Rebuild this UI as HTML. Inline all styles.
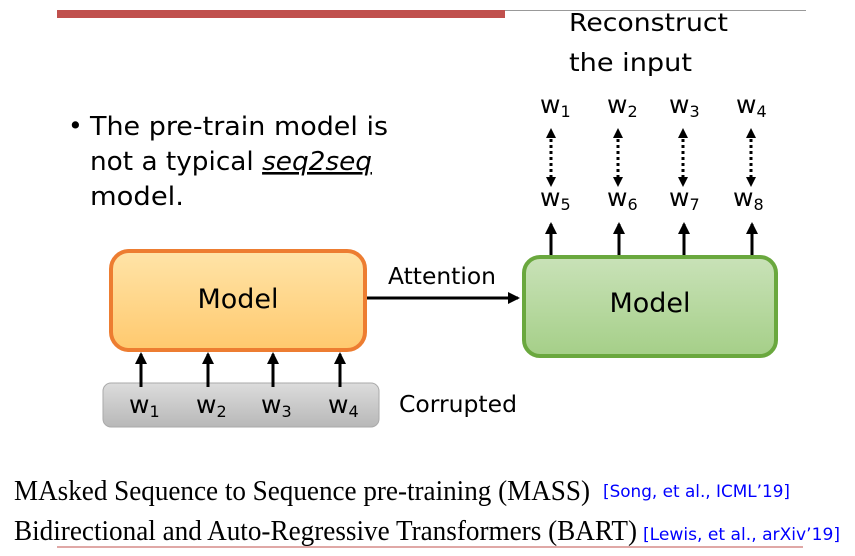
<!DOCTYPE html>
<html><head><meta charset="utf-8"><style>
body{margin:0;background:#fff;width:855px;height:556px;overflow:hidden}
svg{display:block}
text{font-family:"DejaVu Sans","Liberation Sans",sans-serif;fill:#000}
</style></head><body>
<svg width="855" height="556" viewBox="0 0 855 556">
<defs>
<linearGradient id="og" x1="0" y1="0" x2="0" y2="1"><stop offset="0" stop-color="#ffe4a8"/><stop offset="1" stop-color="#ffc96e"/></linearGradient>
<linearGradient id="gg" x1="0" y1="0" x2="0" y2="1"><stop offset="0" stop-color="#c9e2b8"/><stop offset="1" stop-color="#a5cf88"/></linearGradient>
<linearGradient id="cg" x1="0" y1="0" x2="0" y2="1"><stop offset="0" stop-color="#dcdcdc"/><stop offset="1" stop-color="#b8b8b8"/></linearGradient>
<marker id="a2" markerWidth="12" markerHeight="12" refX="10" refY="6" orient="auto-start-reverse" markerUnits="userSpaceOnUse"><path d="M0,0 L12,6 L0,12 z" fill="#000"/></marker>
<marker id="a3" markerWidth="10" markerHeight="10" refX="5" refY="5" orient="auto-start-reverse" markerUnits="userSpaceOnUse"><path d="M0,0 L10,5 L0,10 z" fill="#000"/></marker>
</defs>
<rect x="57" y="10" width="448" height="8" fill="#c0504d"/>
<line x1="505" y1="10.5" x2="806" y2="10.5" stroke="#999" stroke-width="1"/>
<text x="569" y="31" font-size="25" textLength="159" lengthAdjust="spacingAndGlyphs">Reconstruct</text>
<text x="569" y="71" font-size="25" textLength="123" lengthAdjust="spacingAndGlyphs">the input</text>
<text x="68" y="134" font-size="25">•</text>
<text x="90" y="135" font-size="26" textLength="298" lengthAdjust="spacingAndGlyphs">The pre-train model is</text>
<text x="90" y="170" font-size="26" textLength="282" lengthAdjust="spacingAndGlyphs">not a typical <tspan font-style="italic" text-decoration="underline">seq2seq</tspan></text>
<text x="90" y="205" font-size="26" textLength="94" lengthAdjust="spacingAndGlyphs">model.</text>
<g font-size="25">
<text x="540" y="113">w<tspan font-size="16" dy="4">1</tspan></text>
<text x="607" y="113">w<tspan font-size="16" dy="4">2</tspan></text>
<text x="669" y="113">w<tspan font-size="16" dy="4">3</tspan></text>
<text x="736" y="113">w<tspan font-size="16" dy="4">4</tspan></text>
<text x="540" y="206">w<tspan font-size="16" dy="4">5</tspan></text>
<text x="607" y="206">w<tspan font-size="16" dy="4">6</tspan></text>
<text x="669" y="206">w<tspan font-size="16" dy="4">7</tspan></text>
<text x="733" y="206">w<tspan font-size="16" dy="4">8</tspan></text>
</g>
<g stroke="#000" stroke-width="3" stroke-dasharray="3,3" marker-start="url(#a3)" marker-end="url(#a3)">
<line x1="551" y1="133" x2="551" y2="182"/>
<line x1="618" y1="133" x2="618" y2="182"/>
<line x1="683" y1="133" x2="683" y2="182"/>
<line x1="751" y1="133" x2="751" y2="182"/>
</g>
<g stroke="#000" stroke-width="3" marker-end="url(#a2)">
<line x1="551" y1="256" x2="551" y2="224"/>
<line x1="619" y1="256" x2="619" y2="224"/>
<line x1="684" y1="256" x2="684" y2="224"/>
<line x1="752" y1="256" x2="752" y2="224"/>
</g>
<rect x="524" y="257" width="252" height="99" rx="16" fill="url(#gg)" stroke="#6aa83e" stroke-width="4"/>
<text x="650" y="312" font-size="27" text-anchor="middle">Model</text>
<rect x="111" y="251" width="254" height="99" rx="18" fill="url(#og)" stroke="#ed7d31" stroke-width="4"/>
<text x="238" y="308" font-size="27" text-anchor="middle">Model</text>
<line x1="367" y1="298" x2="518" y2="298" stroke="#000" stroke-width="3" marker-end="url(#a2)"/>
<text x="388" y="284" font-size="23" textLength="108" lengthAdjust="spacingAndGlyphs">Attention</text>
<rect x="103" y="383" width="276" height="44" rx="8" fill="url(#cg)" stroke="#aaa" stroke-width="1"/>
<g stroke="#000" stroke-width="3" marker-end="url(#a2)">
<line x1="141" y1="387" x2="141" y2="354"/>
<line x1="208" y1="387" x2="208" y2="354"/>
<line x1="273" y1="387" x2="273" y2="354"/>
<line x1="340" y1="387" x2="340" y2="354"/>
</g>
<g font-size="25">
<text x="129" y="413">w<tspan font-size="16" dy="4">1</tspan></text>
<text x="196" y="413">w<tspan font-size="16" dy="4">2</tspan></text>
<text x="261" y="413">w<tspan font-size="16" dy="4">3</tspan></text>
<text x="328" y="413">w<tspan font-size="16" dy="4">4</tspan></text>
</g>
<text x="399" y="412" font-size="23" textLength="118" lengthAdjust="spacingAndGlyphs">Corrupted</text>
<text x="14" y="500" font-size="28" style="font-family:'Liberation Serif',serif" textLength="576" lengthAdjust="spacingAndGlyphs">MAsked Sequence to Sequence pre-training (MASS)</text>
<text x="603" y="497" font-size="17" style="fill:#0000ff" textLength="187" lengthAdjust="spacingAndGlyphs">[Song, et al., ICML’19]</text>
<text x="14" y="540" font-size="28" style="font-family:'Liberation Serif',serif" textLength="623" lengthAdjust="spacingAndGlyphs">Bidirectional and Auto-Regressive Transformers (BART)</text>
<text x="643" y="540" font-size="17" style="fill:#0000ff" textLength="197" lengthAdjust="spacingAndGlyphs">[Lewis, et al., arXiv’19]</text>
<line x1="57" y1="547" x2="803" y2="547" stroke="#c0504d" stroke-width="1"/>
</svg>
</body></html>
